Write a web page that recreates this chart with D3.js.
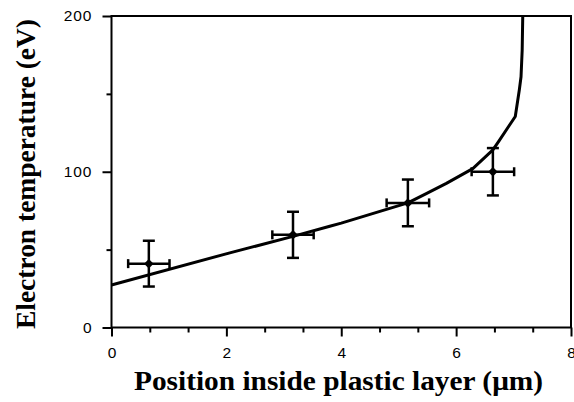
<!DOCTYPE html>
<html>
<head>
<meta charset="utf-8">
<script src="https://cdnjs.cloudflare.com/ajax/libs/d3/7.8.5/d3.min.js"></script>
<style>
	body { margin: 0; background: #fff; }
	svg { display: block; }
</style>
</head>
<body>
<div id="chart-area"></div>
<script>
// measured points with error bars
var pointX = [0.65, 3.16, 5.16, 6.64];
var pointY = [41, 59.5, 80, 100];
var pointXErr = [0.36, 0.36, 0.37, 0.37];
var pointYErr = [14.7, 14.8, 15, 15.2];

// model curve
var curveX = [0, 2.06, 3.16, 3.80, 4.0, 5.16, 5.48, 5.83, 6.29, 6.64, 6.75, 7.03, 7.10, 7.13, 7.15, 7.16];
var curveY = [27.3, 47.9, 58.5, 65, 67, 80, 86, 92.5, 102, 114, 120, 135.5, 152.5, 161, 178, 200];

var xTicks = [0, 2, 4, 6, 8];
var xMinorTicks = [2/3, 4/3, 8/3, 10/3, 14/3, 16/3, 20/3, 22/3];
var yTicks = [0, 100, 200];
var yMinorTicks = [50, 150];

var W = 574, H = 402;
var plotLeft = 111.5, plotRight = 571, plotTop = 16, plotBottom = 327.5;

var svg = d3.select("#chart-area")
	.append("svg")
		.attr("width", W)
		.attr("height", H);

var x = d3.scaleLinear()
	.domain([0, 8])
	.range([plotLeft, plotRight]);

var y = d3.scaleLinear()
	.domain([0, 200])
	.range([plotBottom, plotTop]);

function styleAxis(sel){
	sel.select(".domain").remove();
	sel.selectAll("line").attr("stroke", "#000").attr("stroke-width", 2);
	sel.selectAll("text")
		.attr("font-family", "'Liberation Sans', Arial, sans-serif")
		.attr("font-size", "15.5px")
		.attr("fill", "#000");
}

// minor ticks
svg.append("g")
	.attr("transform", "translate(0," + plotBottom + ")")
	.call(d3.axisBottom(x).tickValues(xMinorTicks).tickSize(5).tickFormat(""))
	.call(styleAxis);

svg.append("g")
	.attr("transform", "translate(" + plotLeft + ",0)")
	.call(d3.axisLeft(y).tickValues(yMinorTicks).tickSize(5).tickFormat(""))
	.call(styleAxis);

// major ticks
svg.append("g")
	.attr("transform", "translate(0," + plotBottom + ")")
	.call(d3.axisBottom(x).tickValues(xTicks).tickSize(9).tickPadding(10).tickFormat(d3.format("d")))
	.call(styleAxis);

svg.append("g")
	.attr("transform", "translate(" + plotLeft + ",0)")
	.call(d3.axisLeft(y).tickValues(yTicks).tickSize(9).tickPadding(10).tickFormat(d3.format("d")))
	.call(styleAxis)
	.selectAll("text")
		.attr("letter-spacing", "1px");

// frame
svg.append("rect")
	.attr("x", plotLeft)
	.attr("y", plotTop)
	.attr("width", plotRight - plotLeft)
	.attr("height", plotBottom - plotTop)
	.attr("fill", "none")
	.attr("stroke", "#000")
	.attr("stroke-width", 2);

// curve
var line = d3.line()
	.x(function(d){ return x(d[0]); })
	.y(function(d){ return y(d[1]); });

svg.append("path")
	.datum(d3.zip(curveX, curveY))
	.attr("d", line)
	.attr("fill", "none")
	.attr("stroke", "#000")
	.attr("stroke-width", 3)
	.attr("stroke-linejoin", "round");

// error bars
var pts = pointX.map(function(d, i){
	return {x: d, y: pointY[i], ex: pointXErr[i], ey: pointYErr[i]};
});

var g = svg.selectAll(".pt")
	.data(pts)
	.enter()
	.append("g")
		.attr("class", "pt");

g.append("line")
	.attr("x1", function(d){ return x(d.x); })
	.attr("x2", function(d){ return x(d.x); })
	.attr("y1", function(d){ return y(d.y - d.ey); })
	.attr("y2", function(d){ return y(d.y + d.ey); })
	.attr("stroke", "#000").attr("stroke-width", 2.5);

g.append("line")
	.attr("x1", function(d){ return x(d.x - d.ex); })
	.attr("x2", function(d){ return x(d.x + d.ex); })
	.attr("y1", function(d){ return y(d.y); })
	.attr("y2", function(d){ return y(d.y); })
	.attr("stroke", "#000").attr("stroke-width", 2.5);

// caps
[-1, 1].forEach(function(s){
	g.append("line")
		.attr("x1", function(d){ return x(d.x) - 6; })
		.attr("x2", function(d){ return x(d.x) + 6; })
		.attr("y1", function(d){ return y(d.y + s * d.ey); })
		.attr("y2", function(d){ return y(d.y + s * d.ey); })
		.attr("stroke", "#000").attr("stroke-width", 2.5);
	g.append("line")
		.attr("x1", function(d){ return x(d.x + s * d.ex); })
		.attr("x2", function(d){ return x(d.x + s * d.ex); })
		.attr("y1", function(d){ return y(d.y) - 4.5; })
		.attr("y2", function(d){ return y(d.y) + 4.5; })
		.attr("stroke", "#000").attr("stroke-width", 2.5);
});

g.append("path")
	.attr("d", d3.symbol().type(d3.symbolSquare).size(45))
	.attr("transform", function(d){ return "translate(" + x(d.x) + "," + y(d.y) + ") rotate(45)"; })
	.attr("fill", "#000");

// axis titles
svg.append("text")
	.attr("x", 338.5)
	.attr("y", 390)
	.attr("text-anchor", "middle")
	.attr("font-family", "'Liberation Serif', 'Times New Roman', serif")
	.attr("font-weight", "bold")
	.attr("font-size", "27px")
	.attr("textLength", 409)
	.attr("lengthAdjust", "spacingAndGlyphs")
	.text("Position inside plastic layer (\u03bcm)");

svg.append("text")
	.attr("transform", "translate(35,174) rotate(-90)")
	.attr("text-anchor", "middle")
	.attr("font-family", "'Liberation Serif', 'Times New Roman', serif")
	.attr("font-weight", "bold")
	.attr("font-size", "27px")
	.attr("textLength", 310)
	.attr("lengthAdjust", "spacingAndGlyphs")
	.text("Electron temperature (eV)");
</script>
</body>
</html>
